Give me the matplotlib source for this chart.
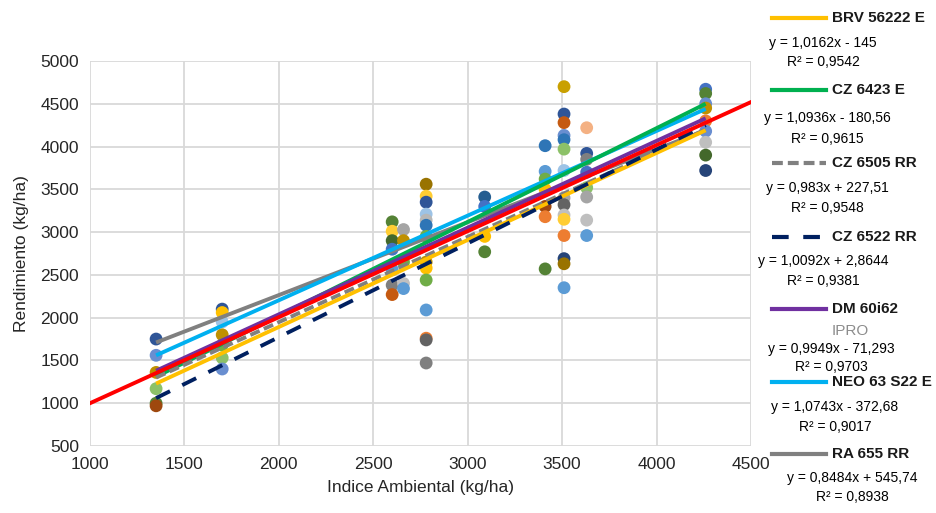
import matplotlib.pyplot as plt
from matplotlib.lines import Line2D

plt.rcParams['font.family'] = ['Liberation Sans', 'DejaVu Sans']

# environment index (x) and observed yields per environment
env = [1350, 1700, 2600, 2660, 2780, 3090, 3410, 3510, 3630, 4260]
yields = [
    [1750, 1560, 1360, 1170, 1000, 970],
    [2100, 2060, 1950, 1800, 1680, 1530, 1400],
    [3120, 3010, 2900, 2800, 2560, 2380, 2270],
    [3030, 2900, 2650, 2400, 2340],
    [3560, 3420, 3350, 3210, 3140, 3080, 2950, 2650, 2580, 2440, 2090, 1760, 1740, 1470],
    [3410, 3300, 2950, 2770],
    [4010, 3710, 3620, 3500, 3300, 3180, 2570],
    [4700, 4380, 4280, 4130, 4080, 3970, 3720, 3400, 3320, 3200, 3150, 2960, 2690, 2630, 2350],
    [4220, 3920, 3850, 3700, 3520, 3410, 3140, 2960],
    [4670, 4620, 4500, 4450, 4300, 4180, 4050, 3900, 3720],
]
point_colors = [
    ['#2F5597', '#698ED0', '#BF9000', '#8CC168', '#548235', '#9E480E'],
    ['#2F5597', '#FFC000', '#9DC3E6', '#BF9000', '#70AD47', '#8CC168', '#698ED0'],
    ['#548235', '#FFCD33', '#43682B', '#4472C4', '#5B9BD5', '#7F7F7F', '#C55A11'],
    ['#A5A5A5', '#BF9000', '#70AD47', '#BFBFBF', '#5B9BD5'],
    ['#997300', '#FFCD33', '#2F5597', '#9DC3E6', '#B7B7B7', '#2E75B6', '#70AD47',
     '#BF9000', '#FFC000', '#70AD47', '#5B9BD5', '#ED7D31', '#636363', '#7F7F7F'],
    ['#255E91', '#4472C4', '#FFC000', '#548235'],
    ['#2E75B6', '#5B9BD5', '#70AD47', '#FFC000', '#9E480E', '#ED7D31', '#548235'],
    ['#C9A000', '#2F5597', '#C55A11', '#698ED0', '#2E75B6', '#8CC168', '#9DC3E6',
     '#A5A5A5', '#636363', '#BFBFBF', '#FFCD33', '#ED7D31', '#264478', '#997300', '#5B9BD5'],
    ['#F4B183', '#2F5597', '#7F7F7F', '#4472C4', '#8CC168', '#A5A5A5', '#BFBFBF', '#5B9BD5'],
    ['#4472C4', '#548235', '#698ED0', '#BF9000', '#ED7D31', '#698ED0', '#BFBFBF', '#43682B', '#264478'],
]

# trendlines per variety, as drawn: value at first and last environment
varieties = ['BRV 56222 E', 'CZ 6423 E', 'CZ 6505 RR', 'CZ 6522 RR', 'DM 60i62', 'NEO 63 S22 E', 'RA 655 RR']
trend_start = [1230, 1310, 1300, 1060, 1380, 1560, 1710]
trend_end = [4190, 4500, 4200, 4250, 4330, 4440, 4190]
eq_text = ['y = 1,0162x - 145', 'y = 1,0936x - 180,56', 'y = 0,983x + 227,51',
           'y = 1,0092x + 2,8644', 'y = 0,9949x - 71,293', 'y = 1,0743x - 372,68',
           'y = 0,8484x + 545,74']
r2_text = ['R² = 0,9542', 'R² = 0,9615', 'R² = 0,9548', 'R² = 0,9381',
           'R² = 0,9703', 'R² = 0,9017', 'R² = 0,8938']
ref_x = [1000, 4500]
ref_y = [1000, 4520]

line_colors = ['#FFC000', '#00B050', '#808080', '#002060', '#7030A0', '#00B0F0', '#808080']
line_dash = [None, None, (2.6, 1.2), (4, 3.5), None, None, None]
draw_order = [6, 5, 1, 4, 2, 0, 3]

W, H = 937, 513
fig = plt.figure(figsize=(W / 100, H / 100), dpi=100)
ax = fig.add_axes([90 / W, 1 - 446 / H, 661 / W, 385 / H])

for xv, ys, cs in zip(env, yields, point_colors):
    ax.scatter([xv] * len(ys), ys, s=85, c=cs, zorder=2, linewidths=0)

x_fit = [min(env), max(env)]
for i in draw_order:
    ln, = ax.plot(x_fit, [trend_start[i], trend_end[i]], color=line_colors[i], lw=2.8,
                  zorder=3, solid_capstyle='butt')
    if line_dash[i]:
        ln.set_dashes(line_dash[i])
        ln.set_dash_capstyle('butt')

# reference line
ax.plot(ref_x, ref_y, color='#FF0000', lw=2.8, zorder=4)

ax.set_xlim(1000, 4500)
ax.set_ylim(500, 5000)
ax.set_xticks(range(1000, 4501, 500))
ax.set_yticks(range(500, 5001, 500))
ax.grid(color='#D9D9D9', lw=1.3)
ax.set_axisbelow(True)
for s in ax.spines.values():
    s.set_visible(False)
ax.tick_params(length=0, labelsize=12.5, colors='#262626', pad=8)
ax.set_xlabel('Indice Ambiental (kg/ha)', fontsize=12.5, color='#262626', labelpad=6)
ax.set_ylabel('Rendimiento (kg/ha)', fontsize=12.5, color='#262626', labelpad=8)


def fx(px):
    return px / W


def fy(py):
    return 1 - py / H


# legend drawn by hand on the right
label_y = [18, 90, 163, 237, 309, 382, 454]
eq_y = [43, 118, 188, 261, 349, 407, 478]
r2_y = [62, 139, 208, 281, 367, 427, 497]
eq_x = [823, 827, 827, 823, 831, 835, 852]
for i in range(len(varieties)):
    ln = Line2D([fx(772), fx(826)], [fy(label_y[i])] * 2, transform=fig.transFigure,
                color=line_colors[i], lw=3)
    if line_dash[i]:
        ln.set_dashes(line_dash[i])
    fig.add_artist(ln)
    fig.text(fx(832), fy(label_y[i]), varieties[i], fontsize=11, fontweight='bold',
             va='center', ha='left', color='#1a1a1a')
    fig.text(fx(eq_x[i]), fy(eq_y[i]), eq_text[i], fontsize=10, va='center', ha='center')
    fig.text(fx(eq_x[i]), fy(r2_y[i]), r2_text[i], fontsize=10, va='center', ha='center')
fig.text(fx(832), fy(331), 'IPRO', fontsize=11, color='#8C8C8C', va='center', ha='left')

fig.savefig('out.png', dpi=100)
